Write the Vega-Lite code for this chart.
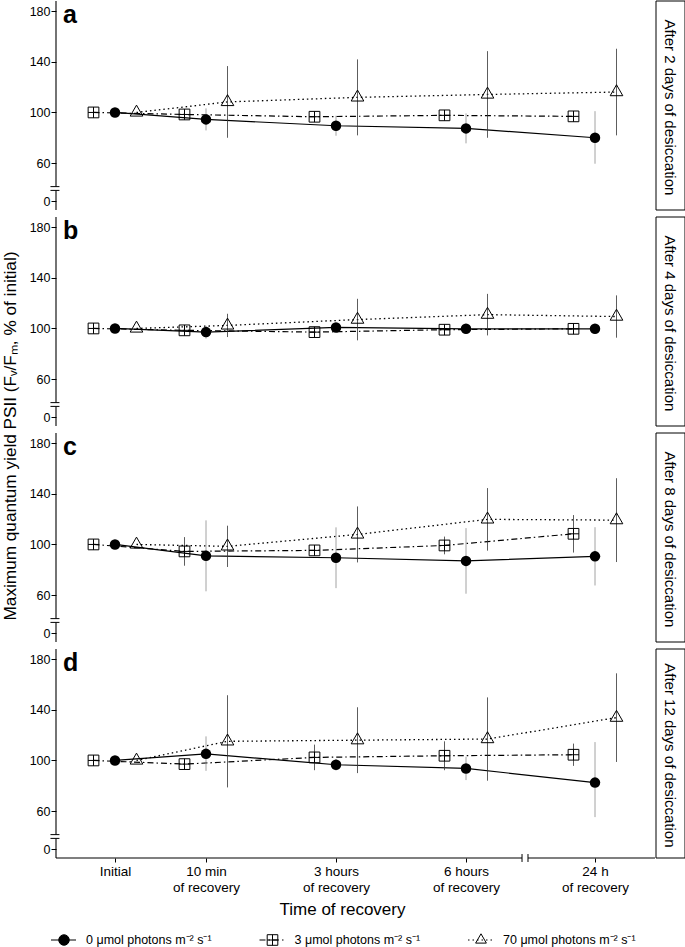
{
"$schema":"https://vega.github.io/schema/vega-lite/v6.json",
"background":"white",
"padding":{"left":1,"top":0,"right":0,"bottom":0},
"autosize":{"type":"pad"},
"datasets":{
"panels":[{"p":"a","panel":"After 2 days of desiccation"},{"p":"b","panel":"After 4 days of desiccation"},{"p":"c","panel":"After 8 days of desiccation"},{"p":"d","panel":"After 12 days of desiccation"}],
"d":[
{"p":"a","min":0,"s":"0","v":100,"lo":100,"hi":100},{"p":"a","min":0,"s":"3","v":100,"lo":100,"hi":100},{"p":"a","min":0,"s":"70","v":100,"lo":100,"hi":100},
{"p":"a","min":10,"s":"0","v":94.5,"lo":85.8,"hi":103.2},{"p":"a","min":10,"s":"3","v":98.4,"lo":95.4,"hi":101.4},{"p":"a","min":10,"s":"70","v":108.3,"lo":80,"hi":136.6},
{"p":"a","min":180,"s":"0","v":89.5,"lo":81.6,"hi":97.4},{"p":"a","min":180,"s":"3","v":96.6,"lo":94.6,"hi":98.6},{"p":"a","min":180,"s":"70","v":111.9,"lo":81.9,"hi":141.9},
{"p":"a","min":360,"s":"0","v":87.4,"lo":75.6,"hi":99.2},{"p":"a","min":360,"s":"3","v":97.7,"lo":95.7,"hi":99.7},{"p":"a","min":360,"s":"70","v":114.2,"lo":80,"hi":148.4},
{"p":"a","min":1440,"s":"0","v":80,"lo":59,"hi":101},{"p":"a","min":1440,"s":"3","v":96.9,"lo":94.9,"hi":98.9},{"p":"a","min":1440,"s":"70","v":116.1,"lo":81.9,"hi":150.3},
{"p":"b","min":0,"s":"0","v":100,"lo":100,"hi":100},{"p":"b","min":0,"s":"3","v":100,"lo":100,"hi":100},{"p":"b","min":0,"s":"70","v":100,"lo":100,"hi":100},
{"p":"b","min":10,"s":"0","v":97.1,"lo":92,"hi":102},{"p":"b","min":10,"s":"3","v":98.5,"lo":95.5,"hi":101.5},{"p":"b","min":10,"s":"70","v":102.4,"lo":93.2,"hi":111.6},
{"p":"b","min":180,"s":"0","v":100.8,"lo":97.8,"hi":103.8},{"p":"b","min":180,"s":"3","v":97.1,"lo":94.1,"hi":100.1},{"p":"b","min":180,"s":"70","v":107,"lo":90.6,"hi":123.4},
{"p":"b","min":360,"s":"0","v":99.7,"lo":97.7,"hi":101.7},{"p":"b","min":360,"s":"3","v":99,"lo":97,"hi":101},{"p":"b","min":360,"s":"70","v":110.9,"lo":94.5,"hi":127.3},
{"p":"b","min":1440,"s":"0","v":99.7,"lo":97.7,"hi":101.7},{"p":"b","min":1440,"s":"3","v":99.7,"lo":97.7,"hi":101.7},{"p":"b","min":1440,"s":"70","v":109.4,"lo":92.7,"hi":126.1},
{"p":"c","min":0,"s":"0","v":100,"lo":100,"hi":100},{"p":"c","min":0,"s":"3","v":100,"lo":100,"hi":100},{"p":"c","min":0,"s":"70","v":100,"lo":100,"hi":100},
{"p":"c","min":10,"s":"0","v":91,"lo":63,"hi":119},{"p":"c","min":10,"s":"3","v":94.5,"lo":83.2,"hi":105.8},{"p":"c","min":10,"s":"70","v":98.5,"lo":82.2,"hi":114.8},
{"p":"c","min":180,"s":"0","v":89.5,"lo":65.5,"hi":113.5},{"p":"c","min":180,"s":"3","v":95.3,"lo":92.3,"hi":98.3},{"p":"c","min":180,"s":"70","v":107.9,"lo":85.8,"hi":130},
{"p":"c","min":360,"s":"0","v":87,"lo":61.1,"hi":112.9},{"p":"c","min":360,"s":"3","v":99.2,"lo":92.2,"hi":106.2},{"p":"c","min":360,"s":"70","v":119.8,"lo":95.1,"hi":144.5},
{"p":"c","min":1440,"s":"0","v":90.6,"lo":67.6,"hi":113.6},{"p":"c","min":1440,"s":"3","v":108.4,"lo":93.6,"hi":123.2},{"p":"c","min":1440,"s":"70","v":119.2,"lo":86.1,"hi":152.3},
{"p":"d","min":0,"s":"0","v":100,"lo":100,"hi":100},{"p":"d","min":0,"s":"3","v":100,"lo":100,"hi":100},{"p":"d","min":0,"s":"70","v":100,"lo":100,"hi":100},
{"p":"d","min":10,"s":"0","v":105.2,"lo":91.8,"hi":119},{"p":"d","min":10,"s":"3","v":97.1,"lo":93.1,"hi":101.1},{"p":"d","min":10,"s":"70","v":115.1,"lo":78.7,"hi":151.5},
{"p":"d","min":180,"s":"0","v":96.6,"lo":92,"hi":101.2},{"p":"d","min":180,"s":"3","v":102.4,"lo":92.3,"hi":112.5},{"p":"d","min":180,"s":"70","v":116,"lo":90,"hi":142},
{"p":"d","min":360,"s":"0","v":93.7,"lo":84.5,"hi":102.9},{"p":"d","min":360,"s":"3","v":103.7,"lo":92.3,"hi":115.1},{"p":"d","min":360,"s":"70","v":116.9,"lo":84,"hi":149.8},
{"p":"d","min":1440,"s":"0","v":82.5,"lo":50.5,"hi":114.5},{"p":"d","min":1440,"s":"3","v":104.5,"lo":95.7,"hi":113.3},{"p":"d","min":1440,"s":"70","v":133.8,"lo":98.8,"hi":168.8}
]},
"spacing":13,
"vconcat":[
{
 "data":{"name":"d"},
 "transform":[{"lookup":"p","from":{"data":{"name":"panels"},"key":"p","fields":["panel"]}}],
 "facet":{"row":{"field":"panel","type":"nominal","sort":["After 2 days of desiccation","After 4 days of desiccation","After 8 days of desiccation","After 12 days of desiccation"],"header":null}},
 "spacing":7,
 "bounds":"flush",
 "spec":{"width":599,"height":209,
  "layer":[
   {"transform":[{"filter":"datum.s=='0'"}],"mark":{"type":"line","color":"black","strokeWidth":1.2},
    "encoding":{"x":{"field":"min","type":"quantitative","scale":{"domain":[-6.5,0,10,180,360,1440,1938],"range":[0,59,150,280,410,539,599],"nice":false,"zero":false},
       "axis":{"values":[0,10,180,360,1440],"labelExpr":"datum.value == 0 ? 'Initial' : datum.value == 10 ? ['10 min', 'of recovery'] : datum.value == 180 ? ['3 hours', 'of recovery'] : datum.value == 360 ? ['6 hours', 'of recovery'] : ['24 h', 'of recovery']","title":"Time of recovery","domain":false,"tickSize":4,"labelPadding":2,"labelFontSize":13.5,"labelLineHeight":16,"titlePadding":8,"titleX":286,"titleFontSize":17}},
     "y":{"field":"v","type":"quantitative","scale":{"domain":[-14.2,60,188],"range":[209,162.1,0],"nice":false,"zero":false},"axis":{"values":[0,60,100,140,180],"title":null,"domain":false,"tickSize":5,"labelPadding":1}}}},
   {"transform":[{"filter":"datum.s=='3'"}],"mark":{"type":"line","color":"black","strokeWidth":1.2,"xOffset":-21.5,"strokeDash":[6,3,1.5,3]},
    "encoding":{"x":{"field":"min","type":"quantitative"},"y":{"field":"v","type":"quantitative"}}},
   {"transform":[{"filter":"datum.s=='70'"}],"mark":{"type":"line","color":"black","strokeWidth":1.3,"xOffset":21.5,"strokeDash":[1.5,3]},
    "encoding":{"x":{"field":"min","type":"quantitative"},"y":{"field":"v","type":"quantitative"}}},
   {"transform":[{"filter":"datum.s=='0'"}],"mark":{"type":"rule","color":"#8a8a8a","strokeWidth":0.8},
    "encoding":{"x":{"field":"min","type":"quantitative"},"y":{"field":"lo","type":"quantitative"},"y2":{"field":"hi"}}},
   {"transform":[{"filter":"datum.s=='3'"}],"mark":{"type":"rule","color":"#333333","strokeWidth":0.8,"xOffset":-21.5},
    "encoding":{"x":{"field":"min","type":"quantitative"},"y":{"field":"lo","type":"quantitative"},"y2":{"field":"hi"}}},
   {"transform":[{"filter":"datum.s=='70'"}],"mark":{"type":"rule","color":"#333333","strokeWidth":0.8,"xOffset":21.5},
    "encoding":{"x":{"field":"min","type":"quantitative"},"y":{"field":"lo","type":"quantitative"},"y2":{"field":"hi"}}},
   {"transform":[{"filter":"datum.s=='0'"}],"mark":{"type":"point","shape":"circle","filled":true,"color":"black","size":110,"opacity":1},
    "encoding":{"x":{"field":"min","type":"quantitative"},"y":{"field":"v","type":"quantitative"}}},
   {"transform":[{"filter":"datum.s=='3'"}],"mark":{"type":"point","shape":"M-1,-1H1V1H-1ZM0,-1V1M-1,0H1","filled":false,"color":"black","strokeWidth":1,"size":115,"opacity":1,"xOffset":-21.5},
    "encoding":{"x":{"field":"min","type":"quantitative"},"y":{"field":"v","type":"quantitative"}}},
   {"transform":[{"filter":"datum.s=='70'"}],"mark":{"type":"point","shape":"M0,-1.155L1,0.577L-1,0.577Z","filled":false,"color":"black","strokeWidth":1,"size":160,"opacity":1,"xOffset":21.5},
    "encoding":{"x":{"field":"min","type":"quantitative"},"y":{"field":"v","type":"quantitative"}}},
   {"transform":[{"filter":"datum.min==0 && datum.s=='0'"}],"mark":{"type":"rule","color":"black","strokeWidth":1.1},
    "encoding":{"x":{"datum":-6.5},"y":{"datum":22.8},"y2":{"datum":188}}},
   {"transform":[{"filter":"datum.min==0 && datum.s=='0'"}],"mark":{"type":"rule","color":"black","strokeWidth":1.1},
    "encoding":{"x":{"datum":-6.5},"y":{"datum":-14.2},"y2":{"datum":16.8}}},
   {"transform":[{"filter":"datum.min==0 && datum.s=='0'"}],"mark":{"type":"rule","color":"black","strokeWidth":1},
    "encoding":{"x":{"datum":-7.11},"x2":{"datum":-6.12},"y":{"datum":16.8}}},
   {"transform":[{"filter":"datum.min==0 && datum.s=='0'"}],"mark":{"type":"rule","color":"black","strokeWidth":1},
    "encoding":{"x":{"datum":-7.11},"x2":{"datum":-6.12},"y":{"datum":22.8}}},
   {"transform":[{"filter":"datum.min==0 && datum.s=='0'"}],"mark":{"type":"text","fontSize":25,"fontWeight":"bold","align":"left","baseline":"top","dx":7,"dy":1.5},
    "encoding":{"x":{"datum":-6.5},"y":{"datum":188},"text":{"field":"p"}}},
   {"transform":[{"filter":"datum.min==0 && datum.s=='0'"}],"mark":{"type":"rect","fill":"transparent","stroke":"black","strokeWidth":1},
    "encoding":{"x":{"datum":1946.3},"x2":{"datum":2187},"y":{"datum":-14.2},"y2":{"datum":188}}},
   {"transform":[{"filter":"datum.min==0 && datum.s=='0'"}],"mark":{"type":"text","angle":90,"fontSize":15,"align":"center","baseline":"middle"},
    "encoding":{"x":{"datum":2066.6},"y":{"datum":104},"text":{"field":"panel"}}},
   {"transform":[{"filter":"datum.p=='d' && datum.min==0 && datum.s=='0'"}],"mark":{"type":"rule","color":"black","strokeWidth":1.1},
    "encoding":{"x":{"datum":-6.5},"x2":{"datum":829},"y":{"datum":-14.2}}},
   {"transform":[{"filter":"datum.p=='d' && datum.min==0 && datum.s=='0'"}],"mark":{"type":"rule","color":"black","strokeWidth":1.1},
    "encoding":{"x":{"datum":879},"x2":{"datum":1938},"y":{"datum":-14.2}}},
   {"transform":[{"filter":"datum.p=='d' && datum.min==0 && datum.s=='0'"}],"mark":{"type":"rule","color":"black","strokeWidth":1},
    "encoding":{"x":{"datum":829},"y":{"datum":-7.9},"y2":{"datum":-20.5}}},
   {"transform":[{"filter":"datum.p=='d' && datum.min==0 && datum.s=='0'"}],"mark":{"type":"rule","color":"black","strokeWidth":1},
    "encoding":{"x":{"datum":879},"y":{"datum":-7.9},"y2":{"datum":-20.5}}},
   {"transform":[{"filter":"datum.p=='b' && datum.min==0 && datum.s=='0'"}],"mark":{"type":"text","angle":270,"fontSize":17.2,"align":"center","baseline":"middle","text":"Maximum quantum yield PSII  (Fᵥ/Fₘ, % of initial)"},
    "encoding":{"x":{"datum":-11.51},"y":{"datum":-30}}}
  ]}
},
{"width":599,"height":10,
 "data":{"values":[{"s":"0","label":"0 μmol photons m⁻² s⁻¹"},{"s":"3","label":"3 μmol photons m⁻² s⁻¹"},{"s":"70","label":"70 μmol photons m⁻² s⁻¹"}]},
 "encoding":{"x":{"field":"s","type":"nominal","scale":{"type":"point","domain":["0","3","70"],"range":[8,425],"padding":0},"axis":null},
  "y":{"datum":0,"type":"quantitative","scale":{"domain":[-1,1]},"axis":null}},
 "layer":[
  {"mark":{"type":"rule","color":"black","strokeWidth":1.2,"xOffset":-13,"x2Offset":12},"encoding":{"x2":{"field":"s"},
    "strokeDash":{"field":"s","type":"nominal","scale":{"domain":["0","3","70"],"range":[[1,0],[6,3,1.5,3],[1.5,3]]},"legend":null}}},
  {"mark":{"type":"point","color":"black","strokeWidth":1,"opacity":1},"encoding":{
    "shape":{"field":"s","type":"nominal","scale":{"domain":["0","3","70"],"range":["circle","M-1,-1H1V1H-1ZM0,-1V1M-1,0H1","M0,-1.155L1,0.577L-1,0.577Z"]},"legend":null},
    "fill":{"field":"s","type":"nominal","scale":{"domain":["0","3","70"],"range":["black","transparent","transparent"]},"legend":null},
    "size":{"field":"s","type":"ordinal","scale":{"domain":["0","3","70"],"range":[110,115,160]},"legend":null}}},
  {"mark":{"type":"text","align":"left","baseline":"middle","dx":22,"fontSize":12.5},"encoding":{"text":{"field":"label"}}}
 ]}
],
"config":{"font":"Liberation Sans","view":{"stroke":null},
 "axis":{"labelFont":"Liberation Sans","titleFont":"Liberation Sans","labelColor":"black","titleColor":"black","domainColor":"black","tickColor":"black","grid":false,"titleFontWeight":"normal","labelFontSize":12.5,"titleFontSize":17,"domainWidth":1.1,"tickWidth":1,"labelFlush":false,"labelOverlap":false},
 "text":{"font":"Liberation Sans","color":"black"},
 "legend":{"disable":true}}
}
